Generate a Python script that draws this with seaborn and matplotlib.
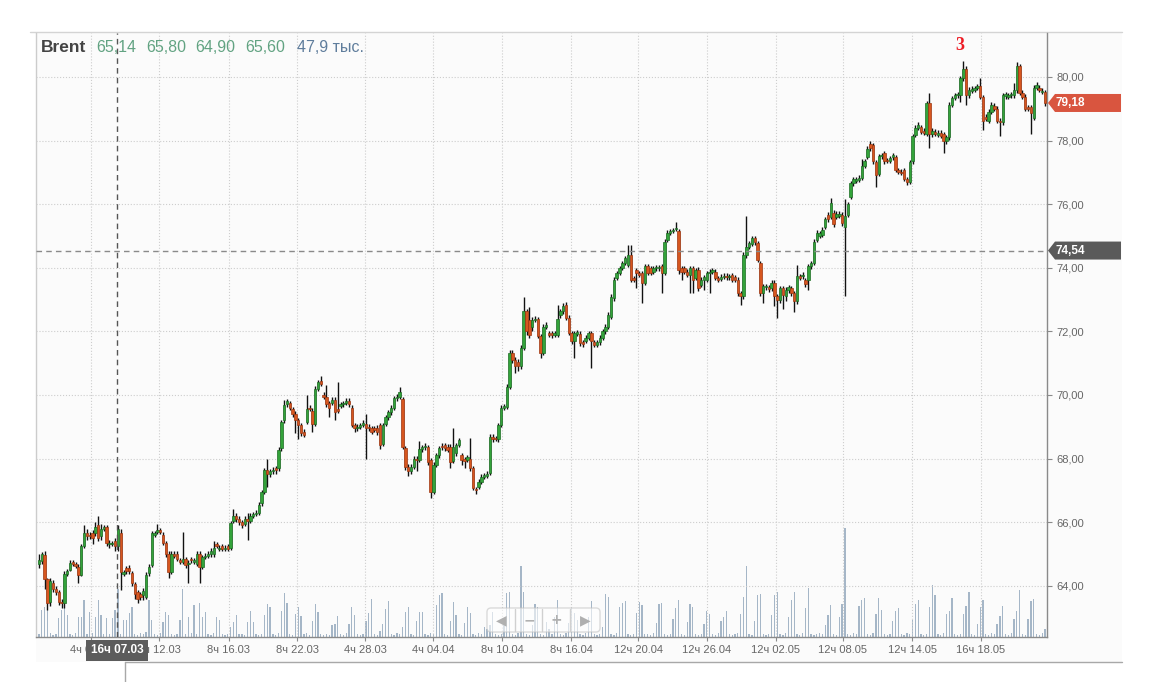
import numpy as np
import pandas as pd
import matplotlib
matplotlib.use("Agg")
import matplotlib.pyplot as plt
import matplotlib.transforms as mtransforms
from matplotlib.patches import Polygon, FancyBboxPatch, Rectangle
import seaborn as sns

# Brent, 4h bars
opens = [
    64.70, 64.78, 64.97, 64.20, 63.50, 64.10, 63.90, 63.80, 63.50, 63.45,
    64.38, 64.50, 64.75, 64.70, 64.60, 64.35, 65.25, 65.65, 65.60, 65.65,
    65.65, 65.90, 65.55, 65.80, 65.85, 65.30, 65.30, 65.40, 65.25, 65.65,
    64.38, 64.55, 64.55, 64.40, 64.05, 63.80, 63.75, 63.70, 63.65, 64.40,
    64.65, 65.60, 65.70, 65.75, 65.60, 65.35, 65.00, 64.43, 65.00, 65.00,
    64.80, 64.75, 64.85, 64.70, 64.85, 64.75, 64.70, 65.00, 64.60, 64.90,
    64.95, 65.00, 65.00, 65.30, 65.15, 65.25, 65.15, 65.25, 65.20, 66.05,
    66.20, 66.10, 66.00, 65.95, 66.10, 66.05, 66.20, 66.25, 66.30, 66.60,
    66.95, 67.65, 67.50, 67.60, 67.70, 67.70, 68.33, 69.20, 69.70, 69.75,
    69.55, 69.40, 69.20, 69.05, 68.85, 69.15, 69.60, 69.50, 69.10, 70.20,
    70.45, 70.00, 69.95, 69.75, 69.75, 69.85, 69.55, 69.65, 69.70, 69.75,
    69.82, 69.60, 69.05, 68.95, 69.00, 69.05, 69.10, 69.00, 68.95, 68.95,
    68.95, 69.05, 68.45, 69.10, 69.30, 69.45, 69.60, 69.90, 69.95, 69.87,
    68.33, 67.75, 67.60, 67.75, 68.00, 67.95, 68.30, 68.35, 68.35, 67.95,
    66.95, 67.80, 68.10, 68.40, 68.43, 68.37, 68.37, 67.93, 68.16, 68.43,
    68.10, 67.98, 67.95, 68.00, 67.70, 67.05, 67.12, 67.27, 67.43, 67.45,
    67.55, 68.69, 68.66, 68.60, 69.05, 69.60, 69.63, 70.26, 71.32, 71.10,
    71.05, 70.90, 71.48, 72.63, 72.35, 72.15, 72.36, 72.38, 71.85, 71.32,
    72.15, 71.95, 71.95, 71.90, 71.90, 72.50, 72.63, 72.84, 72.42, 71.95,
    71.69, 71.92, 71.93, 71.65, 71.70, 71.80, 71.95, 71.65, 71.58, 71.65,
    71.80, 72.00, 72.15, 72.46, 73.04, 73.67, 73.83, 73.99, 74.15, 74.09,
    74.40, 73.68, 73.94, 73.83, 73.83, 73.52, 74.04, 73.99, 73.88, 73.98,
    73.98, 74.04, 73.83, 74.88, 75.10, 75.15, 75.22, 75.14, 73.99, 73.99,
    73.88, 73.78, 73.99, 73.67, 73.94, 73.46, 73.62, 73.62, 73.83, 73.88,
    73.88, 73.67, 73.65, 73.72, 73.75, 73.70, 73.78, 73.70, 73.62, 73.20,
    73.10, 74.40, 74.66, 74.75, 74.93, 74.77, 74.14, 73.20, 73.38, 73.38,
    73.36, 73.52, 73.10, 72.99, 73.36, 73.10, 73.30, 73.36, 73.20, 72.94,
    73.73, 73.73, 73.60, 73.62, 74.04, 74.16, 74.88, 75.00, 75.04, 75.29,
    75.67, 75.60, 75.71, 75.60, 75.62, 75.67, 75.27, 75.65, 76.23, 76.65,
    76.72, 76.76, 76.83, 77.20, 77.49, 77.90, 77.86, 77.31, 76.96, 77.50,
    77.60, 77.38, 77.35, 77.48, 77.47, 77.08, 77.02, 77.06, 76.78, 76.70,
    77.34, 78.18, 78.40, 78.42, 78.30, 78.21, 79.18, 78.20, 78.28, 78.18,
    78.25, 78.21, 77.97, 78.10, 79.12, 79.35, 79.42, 79.42, 79.96, 80.26,
    79.42, 79.55, 79.60, 79.66, 79.72, 79.36, 78.75, 78.61, 78.90, 79.10,
    79.00, 78.62, 78.57, 79.40, 79.38, 79.42, 79.42, 79.58, 80.35, 79.50,
    79.38, 79.05, 79.05, 78.72, 79.66, 79.66, 79.52, 79.52,
]
closes = [
    64.80, 65.00, 64.20, 63.46, 64.15, 63.90, 63.80, 63.50, 63.45, 64.38,
    64.45, 64.72, 64.70, 64.62, 64.35, 65.25, 65.65, 65.55, 65.55, 65.50,
    65.85, 65.50, 65.80, 65.85, 65.35, 65.35, 65.35, 65.25, 65.80, 64.43,
    64.42, 64.45, 64.45, 64.10, 63.75, 63.60, 63.65, 63.85, 64.35, 64.60,
    65.65, 65.65, 65.75, 65.70, 65.35, 65.00, 64.43, 65.00, 64.95, 64.85,
    64.75, 64.85, 64.65, 64.72, 64.80, 64.80, 65.00, 64.60, 64.90, 64.95,
    65.00, 65.10, 65.20, 65.25, 65.20, 65.15, 65.20, 65.15, 65.97, 66.20,
    66.10, 66.00, 65.90, 66.10, 66.05, 66.20, 66.25, 66.30, 66.55, 66.95,
    67.63, 67.50, 67.60, 67.65, 67.65, 68.27, 69.15, 69.68, 69.80, 69.60,
    69.40, 69.20, 69.05, 68.80, 68.75, 69.55, 69.55, 69.10, 70.20, 70.40,
    70.35, 69.95, 69.70, 69.60, 69.85, 69.45, 69.50, 69.70, 69.75, 69.82,
    69.70, 69.05, 68.95, 69.00, 69.05, 69.12, 68.95, 68.95, 68.85, 68.90,
    68.85, 68.43, 69.05, 69.30, 69.45, 69.60, 69.90, 69.95, 70.10, 68.37,
    67.73, 67.60, 67.75, 68.00, 67.95, 68.30, 68.35, 68.40, 67.90, 66.95,
    67.80, 68.10, 68.33, 68.35, 68.33, 68.27, 67.90, 68.37, 68.43, 68.58,
    67.95, 67.93, 68.05, 67.70, 67.08, 67.00, 67.27, 67.43, 67.48, 67.52,
    68.69, 68.60, 68.63, 69.05, 69.60, 69.65, 70.26, 71.32, 71.10, 70.90,
    70.90, 71.48, 72.63, 72.00, 71.90, 72.36, 72.40, 71.85, 71.32, 72.15,
    72.20, 71.90, 71.90, 71.95, 72.40, 72.63, 72.79, 72.42, 71.95, 71.69,
    71.95, 71.97, 71.63, 71.60, 71.80, 71.95, 71.69, 71.58, 71.65, 71.80,
    72.00, 72.15, 72.52, 73.09, 73.62, 73.83, 73.99, 74.15, 74.30, 74.40,
    73.62, 73.62, 73.83, 73.78, 73.52, 74.04, 73.83, 73.83, 73.99, 74.02,
    74.03, 73.83, 74.82, 75.10, 75.15, 75.18, 75.25, 73.93, 73.88, 73.88,
    73.78, 73.99, 73.62, 73.94, 73.36, 73.62, 73.70, 73.83, 73.88, 73.94,
    73.67, 73.62, 73.72, 73.75, 73.70, 73.72, 73.62, 73.62, 73.20, 73.10,
    74.40, 74.66, 74.77, 74.93, 74.80, 74.25, 73.20, 73.41, 73.41, 73.33,
    73.52, 73.10, 73.00, 73.36, 73.15, 73.30, 73.38, 73.20, 72.94, 73.73,
    73.67, 73.78, 73.50, 74.04, 74.15, 74.82, 75.10, 75.08, 75.20, 75.53,
    75.53, 76.04, 75.36, 75.70, 75.70, 75.40, 75.63, 75.99, 76.65, 76.78,
    76.78, 76.82, 77.20, 77.35, 77.74, 77.75, 77.34, 76.93, 77.50, 77.55,
    77.34, 77.35, 77.45, 77.55, 77.08, 77.02, 76.98, 76.79, 76.70, 77.33,
    78.15, 78.40, 78.50, 78.27, 78.25, 79.18, 78.20, 78.30, 78.22, 78.25,
    78.15, 77.97, 78.10, 79.12, 79.33, 79.42, 79.45, 79.96, 80.26, 79.42,
    79.60, 79.62, 79.65, 79.70, 79.37, 78.61, 78.68, 78.90, 79.12, 79.00,
    78.61, 78.57, 79.42, 79.45, 79.42, 79.45, 79.60, 80.35, 79.50, 79.38,
    79.00, 79.00, 78.85, 79.66, 79.75, 79.60, 79.56, 79.18,
]
highs = [
    65.00, 65.05, 65.10, 64.25, 64.25, 64.18, 63.98, 63.88, 63.58, 64.45,
    64.52, 64.80, 64.82, 64.75, 64.70, 65.30, 65.90, 65.80, 65.68, 65.75,
    66.00, 66.20, 65.95, 65.92, 65.90, 65.45, 65.42, 65.50, 65.90, 65.80,
    64.50, 64.62, 64.65, 64.48, 64.12, 63.88, 63.82, 63.92, 64.42, 64.68,
    65.72, 65.72, 65.95, 65.82, 65.68, 65.42, 65.08, 65.08, 65.08, 65.08,
    64.88, 65.70, 64.92, 64.80, 64.92, 64.88, 65.08, 65.08, 64.98, 65.02,
    65.08, 65.18, 65.40, 65.38, 65.28, 65.32, 65.28, 65.32, 66.05, 66.40,
    66.30, 66.18, 66.08, 66.18, 66.30, 66.28, 66.32, 66.38, 66.62, 67.02,
    67.70, 68.00, 67.68, 67.72, 67.78, 68.35, 69.22, 69.85, 69.88, 69.82,
    69.62, 69.48, 69.28, 69.12, 68.92, 70.00, 69.68, 69.58, 70.28, 70.48,
    70.60, 70.08, 70.30, 69.82, 69.92, 69.92, 70.40, 69.78, 69.82, 69.90,
    69.90, 69.68, 69.12, 69.08, 69.12, 69.20, 69.40, 69.08, 69.02, 69.02,
    69.05, 69.12, 69.12, 69.38, 69.52, 69.68, 69.98, 70.02, 70.25, 69.95,
    68.40, 67.82, 67.82, 68.08, 68.08, 68.55, 68.42, 68.48, 68.42, 68.02,
    67.88, 68.18, 68.40, 68.48, 68.50, 68.45, 68.45, 68.96, 68.50, 68.65,
    68.18, 68.05, 68.12, 68.65, 67.78, 67.12, 67.35, 67.50, 67.55, 67.60,
    68.76, 68.76, 68.72, 69.12, 69.68, 69.72, 70.34, 71.40, 71.40, 71.18,
    71.12, 71.56, 73.09, 72.70, 72.75, 72.44, 72.48, 72.46, 71.92, 72.22,
    72.28, 72.02, 72.02, 72.02, 72.83, 72.70, 72.90, 72.92, 72.50, 72.02,
    72.02, 72.05, 72.00, 71.72, 71.88, 72.02, 72.02, 71.72, 71.72, 71.88,
    72.08, 72.22, 72.60, 73.16, 73.70, 73.90, 74.06, 74.22, 74.38, 74.72,
    74.72, 73.75, 74.00, 73.90, 73.90, 74.12, 74.12, 74.06, 74.06, 74.10,
    74.10, 74.12, 74.90, 75.18, 75.22, 75.26, 75.45, 75.22, 74.06, 74.06,
    73.95, 74.06, 74.06, 74.00, 74.02, 73.70, 73.78, 73.90, 73.95, 74.00,
    73.95, 73.75, 73.80, 73.82, 73.85, 73.80, 73.85, 73.78, 73.70, 73.28,
    74.48, 75.63, 74.85, 75.00, 75.00, 74.85, 74.22, 73.50, 73.48, 73.45,
    73.60, 73.60, 73.18, 73.44, 73.44, 73.38, 73.46, 73.44, 73.28, 74.09,
    73.80, 73.86, 73.68, 74.12, 74.22, 74.90, 75.18, 75.16, 75.28, 75.60,
    75.75, 76.20, 75.80, 75.78, 75.78, 75.75, 76.17, 76.06, 76.72, 76.85,
    76.85, 76.90, 77.43, 77.42, 77.82, 77.97, 77.93, 77.38, 77.58, 77.62,
    77.68, 77.45, 77.52, 77.62, 77.55, 77.15, 77.10, 77.14, 76.85, 77.40,
    78.22, 78.48, 78.58, 78.50, 78.38, 79.25, 79.48, 78.38, 78.35, 78.32,
    78.32, 78.28, 78.18, 79.20, 79.40, 79.50, 79.52, 80.04, 80.50, 80.34,
    79.68, 79.70, 79.72, 79.78, 79.95, 79.43, 78.82, 78.98, 79.20, 79.18,
    79.08, 78.70, 79.50, 79.52, 79.50, 79.52, 79.80, 80.48, 80.42, 79.58,
    79.45, 79.12, 79.12, 79.74, 79.85, 79.74, 79.64, 79.60,
]
lows = [
    64.55, 64.70, 63.90, 63.24, 63.35, 63.80, 63.72, 63.40, 63.30, 63.30,
    64.30, 64.45, 64.62, 64.55, 64.10, 64.30, 65.20, 65.45, 65.48, 65.30,
    65.58, 65.40, 65.45, 65.72, 65.25, 65.20, 65.25, 65.10, 65.10, 63.87,
    64.30, 64.38, 64.38, 64.00, 63.60, 63.45, 63.55, 63.55, 63.58, 64.32,
    64.58, 65.52, 65.62, 65.62, 65.28, 64.92, 64.25, 64.38, 64.88, 64.78,
    64.68, 64.68, 64.55, 64.10, 64.72, 64.68, 64.62, 64.10, 64.52, 64.85,
    64.88, 64.92, 64.92, 65.18, 65.08, 65.08, 65.08, 65.08, 65.12, 65.98,
    66.00, 65.92, 65.82, 65.88, 65.45, 65.98, 66.12, 66.18, 66.22, 66.52,
    66.88, 67.10, 67.42, 67.52, 67.50, 67.62, 68.25, 69.12, 69.62, 69.52,
    69.32, 68.80, 68.60, 68.72, 68.68, 69.08, 69.48, 68.85, 69.02, 70.12,
    70.28, 69.88, 69.62, 69.30, 69.68, 69.20, 69.42, 69.58, 69.62, 69.68,
    69.62, 68.98, 68.85, 68.88, 68.92, 68.98, 68.00, 68.88, 68.78, 68.82,
    68.75, 68.30, 68.38, 69.02, 69.22, 69.38, 69.52, 69.82, 69.88, 68.30,
    67.65, 67.45, 67.52, 67.68, 67.60, 67.88, 68.22, 68.28, 67.80, 66.75,
    66.88, 67.72, 68.02, 68.28, 68.25, 68.20, 67.70, 67.85, 68.08, 68.35,
    67.80, 67.70, 67.88, 67.62, 67.00, 66.90, 67.05, 67.20, 67.36, 67.38,
    67.48, 68.52, 68.55, 68.52, 68.98, 69.52, 69.56, 70.18, 71.02, 70.70,
    70.75, 70.82, 71.40, 71.90, 71.80, 72.00, 72.28, 71.78, 71.17, 71.25,
    72.08, 71.82, 71.80, 71.82, 71.82, 72.42, 72.55, 72.35, 71.88, 71.60,
    71.17, 71.85, 71.55, 71.52, 71.62, 71.72, 70.85, 71.50, 71.50, 71.58,
    71.72, 71.92, 72.08, 72.38, 72.96, 73.60, 73.76, 73.92, 74.08, 74.02,
    73.55, 73.55, 73.35, 73.70, 72.90, 73.45, 73.76, 73.76, 73.80, 73.90,
    73.90, 73.20, 73.76, 74.80, 75.02, 75.08, 75.15, 73.80, 73.60, 73.80,
    73.70, 73.20, 73.20, 73.60, 73.28, 73.38, 73.30, 73.55, 73.20, 73.80,
    73.60, 73.55, 73.58, 73.65, 73.60, 73.62, 73.55, 73.55, 73.12, 72.83,
    73.02, 74.32, 74.58, 74.68, 74.72, 74.18, 73.12, 72.90, 73.30, 73.25,
    73.28, 72.80, 72.42, 72.90, 72.70, 72.95, 73.22, 73.12, 72.60, 72.86,
    73.60, 73.66, 73.40, 73.30, 73.96, 74.08, 74.80, 74.92, 74.96, 75.22,
    75.45, 75.52, 75.28, 75.52, 75.55, 75.32, 73.10, 75.58, 76.15, 76.58,
    76.65, 76.70, 76.75, 77.12, 77.42, 77.68, 77.27, 76.53, 76.88, 77.42,
    77.27, 77.28, 77.28, 77.40, 77.00, 76.95, 76.90, 76.72, 76.60, 76.62,
    77.26, 78.10, 78.32, 78.20, 78.18, 78.14, 77.75, 78.12, 78.15, 78.10,
    78.08, 77.60, 77.90, 78.02, 79.05, 79.28, 79.35, 79.20, 79.88, 79.12,
    79.35, 79.48, 79.52, 79.58, 79.30, 78.33, 78.60, 78.54, 78.82, 78.92,
    78.54, 78.15, 78.50, 79.32, 79.30, 79.35, 79.35, 79.50, 79.42, 79.30,
    78.92, 78.92, 78.21, 78.65, 79.58, 79.52, 79.45, 79.10,
]
# volume, thousands
volumes = [
    3, 27, 30, 27, 4, 2, 3, 19, 27, 31,
    22, 3, 2, 4, 20, 20, 37, 3, 25, 4,
    20, 37, 22, 3, 19, 3, 19, 27, 48, 3,
    17, 17, 24, 30, 3, 2, 4, 3, 5, 37,
    17, 3, 2, 4, 15, 25, 22, 3, 2, 3,
    17, 48, 3, 20, 4, 32, 3, 34, 20, 25,
    3, 2, 4, 20, 17, 3, 2, 3, 10, 15,
    22, 3, 3, 2, 15, 26, 15, 3, 2, 3,
    22, 33, 30, 3, 2, 4, 26, 44, 34, 3,
    2, 23, 30, 21, 3, 4, 2, 16, 33, 25,
    3, 2, 3, 2, 12, 13, 21, 3, 2, 4,
    13, 30, 22, 3, 2, 3, 16, 24, 38, 3,
    2, 6, 13, 28, 36, 3, 2, 4, 3, 10,
    25, 30, 3, 2, 16, 25, 25, 3, 2, 4,
    3, 32, 42, 44, 3, 2, 16, 35, 22, 3,
    2, 14, 30, 24, 3, 2, 4, 3, 10, 8,
    12, 25, 3, 2, 3, 12, 44, 45, 3, 2,
    4, 71, 45, 3, 2, 12, 33, 30, 3, 2,
    15, 8, 3, 20, 37, 3, 2, 4, 14, 30,
    24, 17, 3, 2, 4, 20, 36, 3, 2, 3,
    10, 43, 40, 3, 2, 4, 30, 34, 36, 3,
    2, 3, 24, 35, 32, 3, 3, 2, 4, 14,
    33, 34, 3, 2, 3, 18, 29, 37, 3, 2,
    15, 33, 30, 3, 2, 3, 13, 26, 23, 3,
    2, 4, 16, 20, 26, 3, 2, 3, 4, 23,
    40, 71, 3, 2, 16, 42, 43, 3, 2, 3,
    22, 42, 45, 3, 2, 4, 20, 37, 45, 3,
    2, 4, 29, 49, 3, 2, 3, 4, 3, 12,
    22, 32, 3, 2, 20, 33, 109, 3, 2, 4,
    3, 31, 37, 39, 3, 2, 4, 23, 39, 27,
    3, 2, 3, 16, 26, 29, 3, 2, 4, 3,
    17, 33, 37, 3, 2, 3, 30, 52, 42, 3,
    2, 4, 23, 26, 39, 3, 2, 3, 23, 31,
    45, 3, 2, 13, 30, 37, 3, 2, 4, 3,
    13, 21, 31, 3, 2, 4, 18, 26, 47, 3,
    2, 18, 36, 38, 3, 2, 4, 8,
]

tick_labels = ["4ч 06.03", "4ч 12.03", "8ч 16.03", "8ч 22.03", "4ч 28.03", "4ч 04.04", "8ч 10.04",
               "8ч 16.04", "12ч 20.04", "12ч 26.04", "12ч 02.05", "12ч 08.05", "12ч 14.05", "16ч 18.05"]
tick_bars = [18.5, 42.6, 67.4, 91.6, 115.7, 139.8, 164.3, 188.8, 212.6, 237.0, 261.5, 285.3, 309.8, 334.3]
price_ticks = [64, 66, 68, 70, 72, 74, 76, 78, 80]
last_price = 79.18
cross_price = 74.54
cross_bar = 27.7
cross_label = "16ч 07.03"
header_vals = ["65,14", "65,80", "64,90", "65,60"]
header_vol = "47,9 тыс."

df = pd.DataFrame({"open": opens, "high": highs, "low": lows, "close": closes, "vol": volumes})
df["i"] = np.arange(len(df))
df["up"] = df["close"] >= df["open"]

sns.set_theme(style="white")
plt.rcParams['font.family'] = ['Liberation Sans', 'DejaVu Sans']

W, H = 1167, 682
fig = plt.figure(figsize=(W / 100, H / 100), dpi=100)
fig.patch.set_facecolor("white")

# background panel in pixel coords
bg = fig.add_axes([0, 0, 1, 1], zorder=-10)
bg.set_xlim(0, W)
bg.set_ylim(H, 0)
bg.axis("off")
bg.add_patch(Rectangle((36, 32), 1086, 630, fc="#fbfbfb", ec="none"))
bg.plot([30, 1122], [31.5, 31.5], color="#d4d4d4", lw=1)
bg.plot([125, 1122], [662, 662], color="#a8a8a8", lw=1)
bg.plot([125, 125], [662, 682], color="#a8a8a8", lw=1)

L, R, T, B = 36, 1047, 33, 637
rect = [L / W, 1 - B / H, (R - L) / W, (B - T) / H]
xlim = (-1.06, 357.7)

# volume underneath
axv = fig.add_axes(rect, zorder=1)
sns.barplot(data=df, x="i", y="vol", native_scale=True, color="#a5b6c7", saturation=1,
            width=0.45, linewidth=0, errorbar=None, ax=axv)
axv.set_xlim(*xlim)
axv.set_ylim(0, 604)
axv.set_facecolor("#fbfbfb")
axv.axis("off")

# price candles
ax = fig.add_axes(rect, zorder=2)
ax.patch.set_visible(False)
ax.set_xlim(*xlim)
ax.set_ylim(62.39, 81.38)

GREEN, GREEN_E = "#33a33a", "#1b6b22"
RED, RED_E = "#d6561f", "#9c3510"
ax.vlines(df["i"], df["low"], df["high"], color="#111111", lw=1.0, zorder=3)
body_lo = np.minimum(df["open"], df["close"])
body_h = np.maximum((df["close"] - df["open"]).abs(), 0.03)
ax.bar(df["i"], body_h, bottom=body_lo, width=0.85,
       color=np.where(df["up"], GREEN, RED), edgecolor=np.where(df["up"], GREEN_E, RED_E),
       linewidth=0.5, zorder=4)

ax.grid(True, ls=":", color="#cdcdcd", lw=0.8)
ax.set_axisbelow(True)
ax.yaxis.tick_right()
ax.set_yticks(price_ticks)
ax.set_yticklabels([f"{v:.2f}".replace(".", ",") for v in price_ticks])
ax.set_xticks(tick_bars)
ax.set_xticklabels(tick_labels)
ax.tick_params(axis="y", right=True, left=False, length=3.5, width=0.8, color="#8a8a8a",
               labelsize=8, labelcolor="#666666", pad=3)
ax.tick_params(axis="x", bottom=True, length=3, width=0.8, color="#8a8a8a",
               labelsize=8, labelcolor="#666666", pad=3)
ax.spines["top"].set_visible(False)
ax.spines["left"].set_color("#cccccc")
ax.spines["right"].set_color("#8a8a8a")
ax.spines["bottom"].set_color("#8a8a8a")
for s in ax.spines.values():
    s.set_linewidth(1)

# crosshair
ax.axhline(cross_price, ls=(0, (4, 3)), color="#8a8a8a", lw=1, zorder=5)
ax.axvline(cross_bar, ls=(0, (4, 3)), color="#555555", lw=1, zorder=5)
tr_x = mtransforms.blended_transform_factory(ax.transData, ax.transAxes)
ax.text(cross_bar, -0.012, cross_label, transform=tr_x, ha="center", va="top", fontsize=8.5,
        color="white", fontweight="bold", zorder=10, clip_on=False,
        bbox=dict(boxstyle="square,pad=0.4", fc="#5c5c5c", ec="none"))

# price flags on the right
tr_y = mtransforms.blended_transform_factory(ax.transAxes, ax.transData)
px_w = 1.0 / (R - L)
half = 9 / 31.8
for price, col in [(last_price, "#d9553f"), (cross_price, "#5a5a5a")]:
    ax.add_patch(Polygon([(1 + 1 * px_w, price), (1 + 8 * px_w, price + half),
                          (1 + 74 * px_w, price + half), (1 + 74 * px_w, price - half),
                          (1 + 8 * px_w, price - half)],
                         closed=True, transform=tr_y, fc=col, ec="none", clip_on=False, zorder=10))
    ax.text(1 + 8 * px_w, price, f"{price:.2f}".replace(".", ","), transform=tr_y,
            ha="left", va="center", fontsize=8.5, fontweight="bold", color="white",
            clip_on=False, zorder=11)

# overlay: header, marker, navigation widget
ov = fig.add_axes([0, 0, 1, 1], zorder=20)
ov.set_xlim(0, W)
ov.set_ylim(H, 0)
ov.patch.set_visible(False)
ov.axis("off")
ov.text(41, 47, "Brent", fontsize=12.5, fontweight="bold", color="#444444", va="center")
for xp, s in zip([96, 146, 195, 245], header_vals):
    ov.text(xp, 47, s, fontsize=11.5, color="#62a382", va="center")
ov.text(297, 47, header_vol, fontsize=11.5, color="#5f7d9c", va="center")
ov.text(960, 45, "3", fontsize=13, fontweight="bold", color="#ee1c25", ha="center", va="center",
        family=["Liberation Serif", "DejaVu Serif"])

ov.add_patch(FancyBboxPatch((487, 608), 113, 24, boxstyle="round,pad=0,rounding_size=4",
                            fc="white", alpha=0.6, ec="#c4c4c4", lw=1))
for xd in [515, 542, 570]:
    ov.plot([xd, xd], [609, 631], color="#d0d0d0", lw=1)
for xc, sym in zip([501, 529, 556, 585], ["◀", "−", "+", "▶"]):
    ov.text(xc, 620, sym, ha="center", va="center", fontsize=10, color="#b0b0b0",
            family=["DejaVu Sans"], fontweight="bold")

fig.savefig("out.png", dpi=100, facecolor="white")
